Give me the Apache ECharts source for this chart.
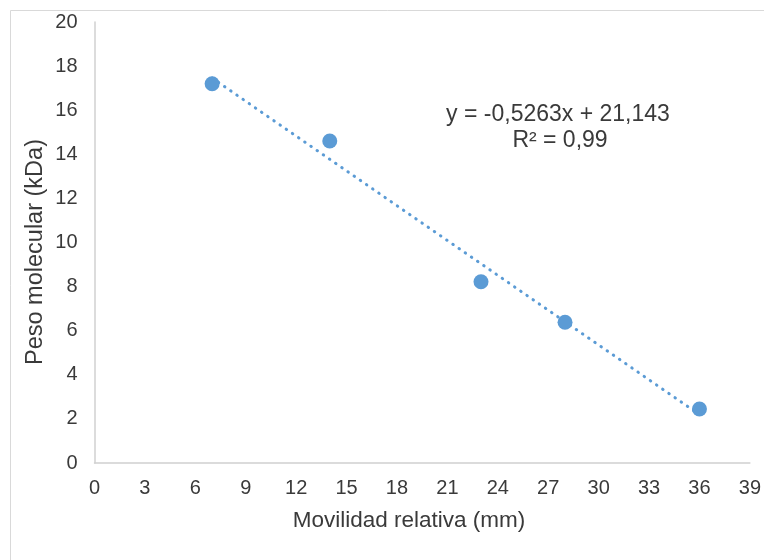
<!DOCTYPE html>
<html>
<head>
<meta charset="utf-8">
<script src="https://cdn.jsdelivr.net/npm/echarts@6/dist/echarts.min.js"></script>
<style>
  html, body { margin: 0; padding: 0; background: #fff; }
  #chart { width: 764px; height: 560px; }
</style>
</head>
<body>
<div id="chart"></div>
<script>
// Relative mobility (mm) vs. molecular weight (kDa) of the marker bands
const mobility = [7, 14, 23, 28, 36];
const weight = [17.2, 14.6, 8.22, 6.38, 2.45];

// Linear trendline reported on the chart
const slope = -0.5263;
const intercept = 21.143;
const equationText = 'y = -0,5263x + 21,143';
const r2Text = 'R² = 0,99';

const xTitle = 'Movilidad relativa (mm)';
const yTitle = 'Peso molecular (kDa)';

const points = mobility.map((x, i) => [x, weight[i]]);
const xStart = Math.min(...mobility);
const xEnd = Math.max(...mobility);
const trend = [xStart, xEnd].map(x => [x, slope * x + intercept]);

const FONT = '"Liberation Sans", Arial, sans-serif';
const TEXT = '#3a3a3a';
const AXIS = '#d0d0d0';
const BLUE = '#5B9BD5';

const chart = echarts.init(document.getElementById('chart'), null, { renderer: 'canvas' });
chart.setOption({
  animation: false,
  backgroundColor: '#fff',
  grid: { left: 94.5, right: 13, top: 22, bottom: 97, containLabel: false },
  xAxis: {
    type: 'value', min: 0, max: 39, interval: 3,
    axisLine: { show: true, lineStyle: { color: AXIS, width: 1.5 } },
    axisTick: { show: false },
    axisLabel: { fontFamily: FONT, fontSize: 20, color: TEXT, margin: 15 },
    splitLine: { show: false }
  },
  yAxis: {
    type: 'value', min: 0, max: 20, interval: 2,
    axisLine: { show: true, lineStyle: { color: AXIS, width: 1.5 } },
    axisTick: { show: false },
    axisLabel: { fontFamily: FONT, fontSize: 20, color: TEXT, margin: 17 },
    splitLine: { show: false }
  },
  series: [
    {
      type: 'line',
      data: trend,
      symbol: 'none',
      z: 1,
      lineStyle: { color: BLUE, width: 3, type: [0.5, 7], cap: 'round' }
    },
    {
      type: 'scatter',
      data: points,
      symbol: 'circle',
      symbolSize: 15,
      z: 2,
      itemStyle: { color: BLUE, opacity: 1 }
    }
  ],
  graphic: [
    {
      type: 'rect', silent: true, z: -1,
      shape: { x: 10.5, y: 10.5, width: 800, height: 600 },
      style: { fill: null, stroke: '#d9d9d9', lineWidth: 1 }
    },
    {
      type: 'text', x: 409, y: 521, silent: true,
      style: { text: xTitle, font: '22.5px ' + FONT, fill: TEXT,
               align: 'center', verticalAlign: 'middle' }
    },
    {
      type: 'text', x: 36, y: 252, rotation: Math.PI / 2, silent: true,
      style: { text: yTitle, font: '23.5px ' + FONT, fill: TEXT,
               align: 'center', verticalAlign: 'middle' }
    },
    {
      type: 'text', x: 558, y: 115, silent: true,
      style: { text: equationText, font: '23px ' + FONT, fill: TEXT,
               align: 'center', verticalAlign: 'middle' }
    },
    {
      type: 'text', x: 560, y: 141, silent: true,
      style: { text: r2Text, font: '23px ' + FONT, fill: TEXT,
               align: 'center', verticalAlign: 'middle' }
    }
  ]
});
</script>
</body>
</html>
